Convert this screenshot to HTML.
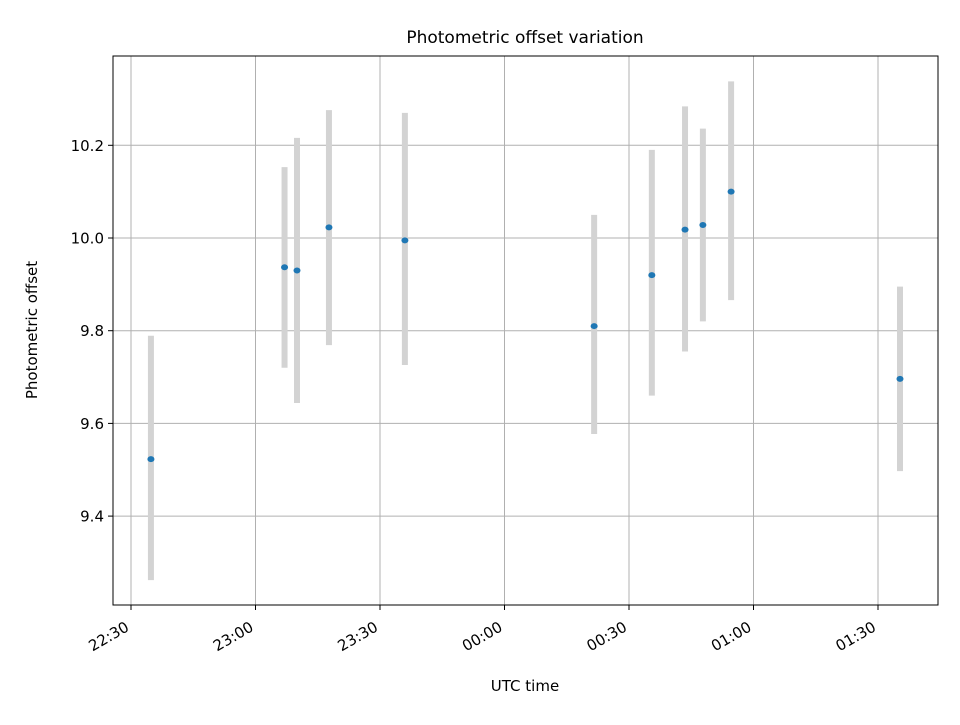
<!DOCTYPE html>
<html><head><meta charset="utf-8"><style>
body{margin:0;background:#fff;}
svg text{font-family:"DejaVu Sans","Liberation Sans",sans-serif;fill:#000;}
</style></head><body>
<svg id="chart" width="960" height="720" xmlns="http://www.w3.org/2000/svg">
<rect width="960" height="720" fill="#fff"/>
<text x="525" y="43" font-size="17" text-anchor="middle">Photometric offset variation</text>
<g id="grid"></g>
<g id="bars"></g>
<g id="pts"></g>
<rect x="113" y="56" width="825" height="549" fill="none" stroke="#000" stroke-width="1"/>
<g id="axes"></g>
<text x="525" y="691" font-size="15" text-anchor="middle">UTC time</text>
<text transform="translate(37,330) rotate(-90)" font-size="15" text-anchor="middle">Photometric offset</text>
</svg>
<script>
const minutes=[4.8,37,40,47.7,66,111.6,125.5,133.5,137.8,144.6,185.3];
const offsets=[9.523,9.937,9.93,10.023,9.995,9.81,9.92,10.018,10.028,10.1,9.696];
const errLow=[9.262,9.72,9.644,9.769,9.726,9.577,9.66,9.755,9.82,9.866,9.497];
const errHigh=[9.789,10.153,10.216,10.276,10.27,10.05,10.19,10.284,10.236,10.338,9.895];
const xTickMinutes=[0,30,60,90,120,150,180];
const xTickLabels=["22:30","23:00","23:30","00:00","00:30","01:00","01:30"];
const yTicks=[9.4,9.6,9.8,10.0,10.2];
const yTickLabels=["9.4","9.6","9.8","10.0","10.2"];

const X=m=>131+m*(878-131)/180;
const Y=v=>238-(v-10)*463.5;
const NS="http://www.w3.org/2000/svg";
function mk(tag,attrs,parent){const e=document.createElementNS(NS,tag);for(const k in attrs)e.setAttribute(k,attrs[k]);parent.appendChild(e);return e;}
const grid=document.getElementById('grid'),axes=document.getElementById('axes'),bars=document.getElementById('bars'),pts=document.getElementById('pts');
xTickMinutes.forEach((m,i)=>{
  const x=X(m);
  const g=mk('line',{x1:x,x2:x,y1:56,y2:605,stroke:'#b0b0b0','stroke-width':1},grid);
  
  
  const t=mk('line',{x1:x,x2:x,y1:605,y2:610,stroke:'#000','stroke-width':1},axes);
  
  
  const ax=x-1, ay=630;
  const l=mk('text',{x:ax,y:ay,'font-size':15,'text-anchor':'end',transform:`rotate(-30 ${ax} ${ay})`},axes);
  l.textContent=xTickLabels[i];
  
  
});
yTicks.forEach((v,i)=>{
  const y=Y(v);
  const g=mk('line',{x1:113,x2:938,y1:y,y2:y,stroke:'#b0b0b0','stroke-width':1},grid);
  
  
  const t=mk('line',{x1:108,x2:113,y1:y,y2:y,stroke:'#000','stroke-width':1},axes);
  
  
  const l=mk('text',{x:104,y:y+5.5,'font-size':15,'text-anchor':'end'},axes);
  l.textContent=yTickLabels[i];
  
  
});
minutes.forEach((m,i)=>{
  const x=X(m);
  const b=mk('line',{x1:x,x2:x,y1:Y(errLow[i]),y2:Y(errHigh[i]),stroke:'#d3d3d3','stroke-width':6},bars);
  
  
  const p=mk('ellipse',{cx:x,cy:Y(offsets[i]),rx:3.5,ry:3,fill:'#1f77b4'},pts);
  
  
});
</script>
</body></html>
